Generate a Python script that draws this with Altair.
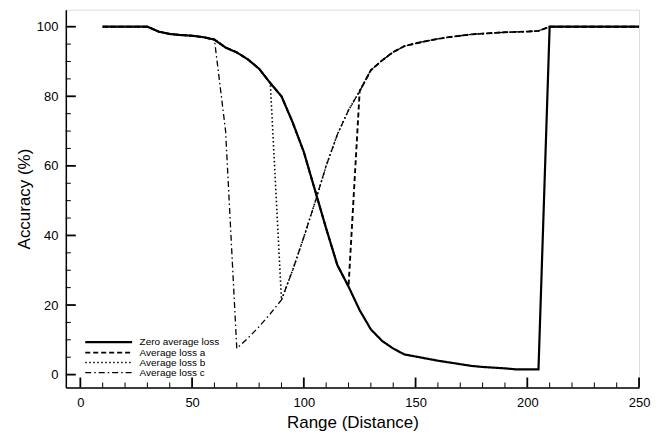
import altair as alt
import pandas as pd

# ---- data ----
series_names = ["Zero average loss", "Average loss a", "Average loss b", "Average loss c"]

x_vals = [10, 20, 30, 35, 40, 45, 50, 55, 60, 65, 70, 75, 80, 85, 90, 95, 100, 105,
          110, 115, 120, 125, 130, 135, 140, 145, 150, 155, 160, 165, 170, 175, 180,
          185, 190, 195, 200, 205, 210, 250]

zero_loss = [100, 100, 100, 98.6, 97.9, 97.6, 97.4, 97.0, 96.3, 94.0, 92.6, 90.6, 87.9,
             83.8, 80.0, 72.5, 64.0, 53.0, 42.0, 31.5, 25.3, 18.5, 13.0, 9.7, 7.5, 5.8,
             5.2, 4.6, 4.0, 3.5, 3.0, 2.5, 2.2, 2.0, 1.8, 1.5, 1.5, 1.5, 100, 100]

loss_a = [100, 100, 100, 98.6, 97.9, 97.6, 97.4, 97.0, 96.3, 94.0, 92.6, 90.6, 87.9,
          83.8, 80.0, 72.5, 64.0, 53.0, 42.0, 31.5, 25.3, 81.5, 87.5, 90.3, 92.7, 94.4,
          95.2, 95.9, 96.5, 97.0, 97.4, 97.8, 98.0, 98.2, 98.4, 98.5, 98.6, 98.8, 100, 100]

loss_b = [100, 100, 100, 98.6, 97.9, 97.6, 97.4, 97.0, 96.3, 94.0, 92.6, 90.6, 87.9,
          83.8, 21.5, 30.0, 39.5, 49.5, 60.0, 69.0, 76.0, 81.5, 87.5, 90.3, 92.7, 94.4,
          95.2, 95.9, 96.5, 97.0, 97.4, 97.8, 98.0, 98.2, 98.4, 98.5, 98.6, 98.8, 100, 100]

loss_c = [100, 100, 100, 98.6, 97.9, 97.6, 97.4, 97.0, 96.3, 70.0, 7.5, 10.5, 13.8,
          17.5, 21.5, 30.0, 39.5, 49.5, 60.0, 69.0, 76.0, 81.5, 87.5, 90.3, 92.7, 94.4,
          95.2, 95.9, 96.5, 97.0, 97.4, 97.8, 98.0, 98.2, 98.4, 98.5, 98.6, 98.8, 100, 100]

x_label_values = [0, 50, 100, 150, 200, 250]
x_minor_values = [10, 20, 30, 40, 60, 70, 80, 90, 110, 120, 130, 140, 160, 170, 180, 190,
                  210, 220, 230, 240]
y_label_values = [0, 20, 40, 60, 80, 100]
y_minor_values = [5, 10, 15, 25, 30, 35, 45, 50, 55, 65, 70, 75, 85, 90, 95]

rows = []
for name, ys in zip(series_names, [zero_loss, loss_a, loss_b, loss_c]):
    for i, (xv, yv) in enumerate(zip(x_vals, ys)):
        rows.append({"range": xv, "acc": yv, "series": name, "order": i})
df = pd.DataFrame(rows)

W, H = 575, 379
FONT = "Liberation Sans"

xscale = alt.Scale(domain=[-6.5, 250], nice=False, zero=False)
yscale = alt.Scale(domain=[-3.7, 104.9], nice=False, zero=False)

dash_scale = alt.Scale(domain=series_names,
                       range=[[1, 0], [5, 3], [1.5, 2.5], [6, 3, 1.5, 3]])
width_scale = alt.Scale(domain=series_names, range=[2.2, 1.3, 1.0, 1.0])

legend = alt.Legend(title=None, orient="none", legendX=57, legendY=328,
                    symbolType="M-10.75,0H1", symbolSize=64, symbolStrokeColor="black",
                    symbolFillColor="transparent",
                    labelFontSize=10, labelFont=FONT, labelColor="black",
                    labelOffset=6, rowPadding=0, padding=0)

x_axis = alt.Axis(values=x_label_values, ticks=False, tickSize=0,
                  domain=True, domainColor="black", domainWidth=1.5,
                  grid=False, labelFontSize=13, labelFont=FONT, labelColor="black",
                  labelPadding=9, labelFlush=False, title="Range (Distance)",
                  titleFontSize=17, titleFont=FONT, titleFontWeight="normal",
                  titleColor="black", titlePadding=5)
y_axis = alt.Axis(values=y_label_values, ticks=False, tickSize=0,
                  domain=True, domainColor="black", domainWidth=1.5,
                  grid=False, labelFontSize=13, labelFont=FONT, labelColor="black",
                  labelPadding=8, title="Accuracy (%)", titleFontSize=17,
                  titleFont=FONT, titleFontWeight="normal", titleColor="black",
                  titlePadding=3)

lines = alt.Chart(df).mark_line(color="black").encode(
    x=alt.X("range:Q", scale=xscale, axis=x_axis),
    y=alt.Y("acc:Q", scale=yscale, axis=y_axis),
    strokeDash=alt.StrokeDash("series:N", scale=dash_scale, legend=legend),
    strokeWidth=alt.StrokeWidth("series:N", scale=width_scale, legend=legend),
    order="order:Q",
)

# inward-pointing tick marks along the bottom and left edges of the frame
x_major_ticks = alt.Chart(pd.DataFrame({"range": x_label_values})).mark_rule(
    color="black", strokeWidth=1.8
).encode(
    x=alt.X("range:Q", scale=xscale, axis=x_axis),
    y=alt.value(H), y2=alt.value(H - 10),
)
x_minor_ticks = alt.Chart(pd.DataFrame({"range": x_minor_values})).mark_rule(
    color="black", strokeWidth=1
).encode(
    x=alt.X("range:Q", scale=xscale, axis=x_axis),
    y=alt.value(H), y2=alt.value(H - 5),
)
y_major_ticks = alt.Chart(pd.DataFrame({"acc": y_label_values})).mark_rule(
    color="black", strokeWidth=1.8
).encode(
    y=alt.Y("acc:Q", scale=yscale, axis=y_axis),
    x=alt.value(0), x2=alt.value(10),
)
y_minor_ticks = alt.Chart(pd.DataFrame({"acc": y_minor_values})).mark_rule(
    color="black", strokeWidth=1
).encode(
    y=alt.Y("acc:Q", scale=yscale, axis=y_axis),
    x=alt.value(0), x2=alt.value(5),
)

chart = alt.layer(
    lines, x_major_ticks, x_minor_ticks, y_major_ticks, y_minor_ticks
).properties(
    width=W, height=H,
    autosize=alt.AutoSizeParams(type="none"),
    padding={"left": 58, "top": 1, "right": 12, "bottom": 45},
).configure(background="white")

chart.save("out.html", embed_options={"renderer": "svg", "actions": False})
